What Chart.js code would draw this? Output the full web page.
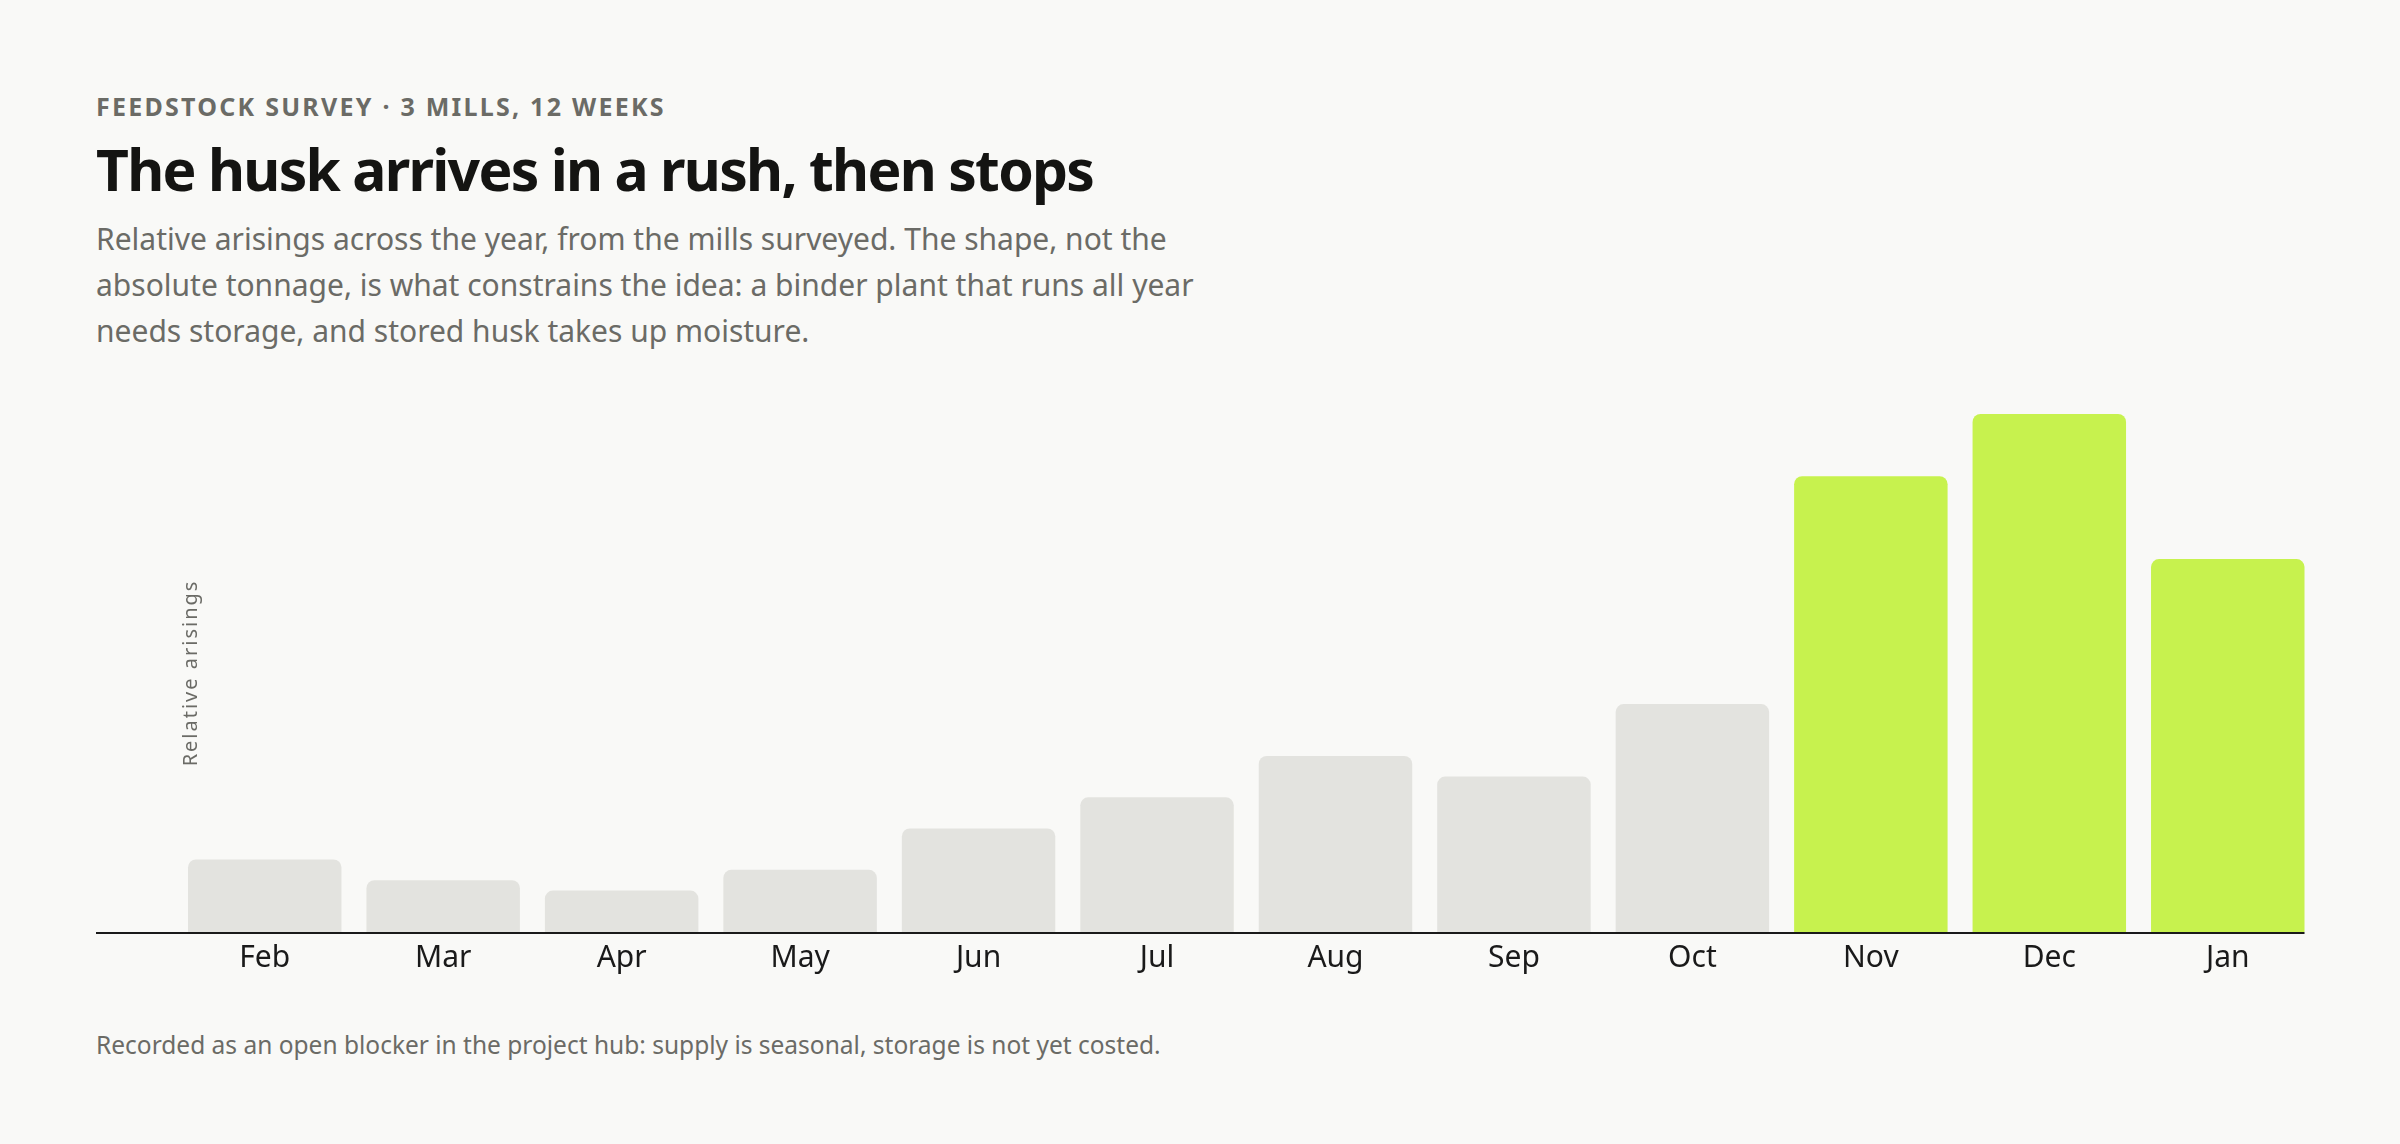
<!DOCTYPE html>
<html>
<head>
<meta charset="utf-8">
<script src="https://cdn.jsdelivr.net/npm/chart.js@4.4.1/dist/chart.umd.min.js"></script>
<style>
  html, body { margin: 0; padding: 0; background: #f9f9f7; }
  body { width: 2400px; height: 1144px; position: relative; overflow: hidden; font-family: "Noto Sans", sans-serif; }
  .eyebrow { position: absolute; left: 96px; top: 94px; font-size: 25px; line-height: 25px; font-weight: 700; letter-spacing: 0.09em; color: #6b6b66; }
  .title { position: absolute; left: 96px; top: 141px; font-size: 57px; line-height: 57px; font-weight: 700; letter-spacing: -0.03em; color: #141412; margin: 0; }
  .sub { position: absolute; left: 96px; top: 216px; font-size: 30px; line-height: 46px; color: #6b6b66; margin: 0; }
  .note { position: absolute; left: 96px; top: 1033px; font-size: 24.5px; line-height: 24px; color: #6b6b66; margin: 0; }
  .wrap { position: absolute; left: 96px; top: 380px; width: 2221px; height: 640px; }
</style>
</head>
<body>
<div class="eyebrow">FEEDSTOCK SURVEY · 3 MILLS, 12 WEEKS</div>
<h1 class="title">The husk arrives in a rush, then stops</h1>
<p class="sub">Relative arisings across the year, from the mills surveyed. The shape, not the<br>absolute tonnage, is what constrains the idea: a binder plant that runs all year<br>needs storage, and stored husk takes up moisture.</p>
<div class="wrap"><canvas id="husk"></canvas></div>
<p class="note">Recorded as an open blocker in the project hub: supply is seasonal, storage is not yet costed.</p>
<script>
const months = ['Feb', 'Mar', 'Apr', 'May', 'Jun', 'Jul', 'Aug', 'Sep', 'Oct', 'Nov', 'Dec', 'Jan'];
const arisings = [14, 10, 8, 12, 20, 26, 34, 30, 44, 88, 100, 72];
const peakMonths = ['Nov', 'Dec', 'Jan'];
const yTitle = 'Relative arisings';

// baseline from the left edge to the last bar, and the spaced y title
const baseline = {
  id: 'baseline',
  afterDatasetsDraw(chart) {
    const ctx = chart.ctx;
    const bars = chart.getDatasetMeta(0).data;
    const last = bars[bars.length - 1];
    const y = chart.scales.y.getPixelForValue(0) + 1;
    ctx.save();
    ctx.strokeStyle = '#1a1a1a';
    ctx.lineWidth = 2;
    ctx.beginPath();
    ctx.moveTo(0, y);
    ctx.lineTo(last.x + last.width / 2, y);
    ctx.stroke();
    const ys = chart.scales.y;
    ctx.translate(chart.chartArea.left + 16, (ys.top + ys.bottom) / 2);
    ctx.rotate(-Math.PI / 2);
    ctx.font = '20px "Noto Sans"';
    ctx.letterSpacing = '2px';
    ctx.fillStyle = '#6b6b66';
    ctx.textAlign = 'center';
    ctx.textBaseline = 'middle';
    ctx.fillText(yTitle, 0, 0);
    ctx.restore();
  }
};

new Chart(document.getElementById('husk'), {
  type: 'bar',
  data: {
    labels: months,
    datasets: [{
      label: yTitle,
      data: arisings,
      backgroundColor: months.map(m => peakMonths.includes(m) ? '#c7f24e' : '#e3e3df'),
      borderRadius: 8,
      borderSkipped: 'start',
      categoryPercentage: 1,
      barPercentage: 0.86
    }]
  },
  options: {
    responsive: true,
    maintainAspectRatio: false,
    animation: false,
    layout: { padding: { left: 79.5, top: 34, right: 0, bottom: 36 } },
    plugins: { legend: { display: false }, tooltip: { enabled: false } },
    scales: {
      x: {
        grid: { display: false, drawTicks: false },
        border: { display: false },
        ticks: { color: '#1a1a1a', padding: 8, font: { family: '"Noto Sans"', size: 30 } }
      },
      y: {
        display: false,
        min: 0,
        max: 100
      }
    }
  },
  plugins: [baseline]
});
</script>
</body>
</html>
